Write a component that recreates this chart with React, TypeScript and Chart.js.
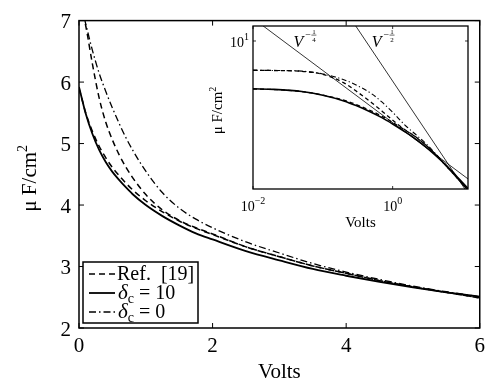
import React, { useEffect, useRef } from "react";
import { Chart, registerables } from "chart.js";

Chart.register(...registerables);

const FONT = "'Liberation Serif', 'Times New Roman', Times, serif";

// ---------- Main plot data (Volts -> μF/cm²) ----------
const volts = [0, 0.05, 0.1, 0.2, 0.3, 0.4, 0.5, 0.6, 0.7, 0.8, 1.0, 1.25, 1.5, 1.75, 2.0, 2.5, 3.0, 3.5, 4.0, 4.5, 5.0, 5.5, 6.0];
const refNear = [5.9, 5.7, 5.5, 5.2, 4.96, 4.77, 4.61, 4.48, 4.36, 4.25, 4.07, 3.89, 3.74, 3.62, 3.52, 3.32, 3.16, 3.01, 2.89, 2.77, 2.67, 2.58, 2.49];
const refUpper = [7.25, 7.15, 6.92, 6.3, 5.75, 5.35, 5.06, 4.82, 4.62, 4.45, 4.17, 3.92, 3.75, 3.63, 3.53, 3.32, 3.16, 3.01, 2.89, 2.77, 2.67, 2.58, 2.49];
const deltaC10 = [5.92, 5.7, 5.49, 5.16, 4.9, 4.7, 4.54, 4.41, 4.29, 4.18, 4.0, 3.82, 3.67, 3.54, 3.44, 3.25, 3.1, 2.96, 2.85, 2.75, 2.66, 2.58, 2.51];
const deltaC0 = [7.25, 7.17, 6.95, 6.52, 6.15, 5.85, 5.58, 5.33, 5.1, 4.9, 4.55, 4.2, 3.95, 3.77, 3.63, 3.4, 3.22, 3.05, 2.91, 2.79, 2.68, 2.59, 2.51];

const mainXTickValues = [0, 2, 4, 6];
const mainYTickValues = [2, 3, 4, 5, 6, 7];

// ---------- Inset data (log-log) ----------
const insetVolts = [0.01, 0.02, 0.05, 0.1, 0.2, 0.3, 0.5, 0.7, 1, 1.5, 2, 3, 4, 6, 8, 12];
const insetRefNear = [5.88, 5.85, 5.72, 5.5, 5.2, 4.96, 4.61, 4.36, 4.07, 3.74, 3.52, 3.16, 2.89, 2.49, 2.24, 1.92];
const insetRefUpper = [7.24, 7.22, 7.15, 6.92, 6.3, 5.75, 5.06, 4.62, 4.17, 3.75, 3.53, 3.16, 2.89, 2.49, 2.24, 1.92];
const insetDeltaC10 = [5.9, 5.86, 5.72, 5.49, 5.16, 4.9, 4.54, 4.29, 4.0, 3.67, 3.44, 3.1, 2.85, 2.51, 2.27, 1.96];
const insetDeltaC0 = [7.24, 7.22, 7.17, 6.95, 6.52, 6.15, 5.58, 5.1, 4.55, 3.95, 3.63, 3.22, 2.91, 2.51, 2.26, 1.95];

// power-law guide lines
const guideQuarterV = [0.01, 12];
const guideQuarterC = [12.84, 2.18];
const guideHalfV = [0.2, 12];
const guideHalfC = [14.36, 1.853];
const guideLabelV = [0.038, 0.5];
const guideLabelC = [9.4, 9.4];
const guideLabelDen = ["4", "2"];

const insetXTickValues = [0.01, 1];
const insetYTickValues = [10];

const legendLabels = ["Ref.  [19]", "10", "0"];

function series(xs: number[], ys: number[], dash: number[], width: number) {
  return {
    data: xs.map((x, i) => ({ x, y: ys[i] })),
    borderColor: "#000",
    backgroundColor: "#000",
    borderWidth: width,
    borderDash: dash,
    pointRadius: 0,
    fill: false,
    tension: 0.3,
    cubicInterpolationMode: "monotone" as const,
  };
}

function drawSupText(
  ctx: CanvasRenderingContext2D,
  parts: { t: string; size: number; dy: number; italic?: boolean }[],
  x: number,
  y: number,
  align: "left" | "center" | "right"
) {
  let total = 0;
  const widths = parts.map((p) => {
    ctx.font = `${p.italic ? "italic " : ""}${p.size}px ${FONT}`;
    const w = ctx.measureText(p.t).width;
    total += w;
    return w;
  });
  let cx = align === "left" ? x : align === "center" ? x - total / 2 : x - total;
  ctx.textAlign = "left";
  ctx.textBaseline = "alphabetic";
  parts.forEach((p, i) => {
    ctx.font = `${p.italic ? "italic " : ""}${p.size}px ${FONT}`;
    ctx.fillText(p.t, cx, y + p.dy);
    cx += widths[i];
  });
}

function seg(ctx: CanvasRenderingContext2D, x1: number, y1: number, x2: number, y2: number) {
  ctx.beginPath();
  ctx.moveTo(x1, y1);
  ctx.lineTo(x2, y2);
  ctx.stroke();
}

const mainDecor = {
  id: "mainDecor",
  afterDatasetsDraw(chart: any) {
    const { ctx, chartArea: a, scales } = chart;
    ctx.save();
    ctx.strokeStyle = "#000";
    ctx.fillStyle = "#000";
    ctx.setLineDash([]);
    ctx.lineWidth = 1.5;
    ctx.strokeRect(a.left, a.top, a.right - a.left, a.bottom - a.top);
    ctx.lineWidth = 1;
    const L = 5;
    scales.x.ticks.forEach((t: any) => {
      const x = scales.x.getPixelForValue(t.value);
      seg(ctx, x, a.bottom, x, a.bottom - L);
      seg(ctx, x, a.top, x, a.top + L);
    });
    scales.y.ticks.forEach((t: any) => {
      const y = scales.y.getPixelForValue(t.value);
      seg(ctx, a.left, y, a.left + L, y);
      seg(ctx, a.right, y, a.right - L, y);
    });
    // axis titles
    ctx.fillStyle = "#000";
    drawSupText(ctx, [{ t: "Volts", size: 21, dy: 0 }], (a.left + a.right) / 2, a.bottom + 50, "center");
    ctx.save();
    ctx.translate(a.left - 43, (a.top + a.bottom) / 2 + 4);
    ctx.rotate(-Math.PI / 2);
    drawSupText(ctx, [{ t: "μ F/cm", size: 21, dy: 0 }, { t: "2", size: 14, dy: -9 }], 0, 0, "center");
    ctx.restore();

    // legend
    const bx = a.left + 4, by = a.bottom - 66, bw = 115, bh = 61;
    ctx.fillStyle = "#fff";
    ctx.fillRect(bx, by, bw, bh);
    ctx.lineWidth = 1.5;
    ctx.strokeRect(bx, by, bw, bh);
    const dsIdx = [0, 2, 3];
    const rowY = [by + 12, by + 31, by + 50];
    dsIdx.forEach((di, r) => {
      const ds = chart.data.datasets[di];
      ctx.strokeStyle = "#000";
      ctx.lineWidth = ds.borderWidth;
      ctx.setLineDash(ds.borderDash || []);
      seg(ctx, bx + 6, rowY[r], bx + 32, rowY[r]);
      ctx.setLineDash([]);
      ctx.fillStyle = "#000";
      if (r === 0) {
        drawSupText(ctx, [{ t: legendLabels[0], size: 20, dy: 0 }], bx + 34, rowY[r] + 6, "left");
      } else {
        drawSupText(
          ctx,
          [
            { t: "δ", size: 21, dy: 0, italic: true },
            { t: "c", size: 14, dy: 4 },
            { t: " = " + legendLabels[r], size: 20, dy: 0 },
          ],
          bx + 35,
          rowY[r] + 6,
          "left"
        );
      }
    });
    ctx.restore();
  },
};

const insetDecor = {
  id: "insetDecor",
  beforeDatasetsDraw(chart: any) {
    const { ctx, chartArea: a } = chart;
    ctx.save();
    ctx.fillStyle = "#fff";
    ctx.fillRect(a.left, a.top, a.right - a.left, a.bottom - a.top);
    ctx.restore();
  },
  afterDatasetsDraw(chart: any) {
    const { ctx, chartArea: a, scales } = chart;
    ctx.save();
    ctx.strokeStyle = "#000";
    ctx.fillStyle = "#000";
    ctx.setLineDash([]);
    ctx.lineWidth = 1.3;
    ctx.strokeRect(a.left, a.top, a.right - a.left, a.bottom - a.top);
    ctx.lineWidth = 0.8;
    const L = 3;
    scales.x.ticks.forEach((t: any) => {
      const x = scales.x.getPixelForValue(t.value);
      seg(ctx, x, a.bottom, x, a.bottom - L);
      seg(ctx, x, a.top, x, a.top + L);
      const e = Math.round(Math.log10(t.value));
      drawSupText(
        ctx,
        [
          { t: "10", size: 14, dy: 0 },
          { t: e < 0 ? "−" + Math.abs(e) : String(e), size: 10, dy: -7 },
        ],
        x,
        a.bottom + 22,
        "center"
      );
    });
    scales.y.ticks.forEach((t: any) => {
      const y = scales.y.getPixelForValue(t.value);
      seg(ctx, a.left, y, a.left + L, y);
      seg(ctx, a.right, y, a.right - L, y);
      const e = Math.round(Math.log10(t.value));
      drawSupText(ctx, [{ t: "10", size: 14, dy: 0 }, { t: String(e), size: 10, dy: -7 }], a.left - 4, y + 6, "right");
    });
    drawSupText(ctx, [{ t: "Volts", size: 15, dy: 0 }], (a.left + a.right) / 2, a.bottom + 38, "center");
    ctx.save();
    ctx.translate(a.left - 31, (a.top + a.bottom) / 2 + 3);
    ctx.rotate(-Math.PI / 2);
    drawSupText(ctx, [{ t: "μ F/cm", size: 15, dy: 0 }, { t: "2", size: 10, dy: -6 }], 0, 0, "center");
    ctx.restore();
    // guide labels
    guideLabelV.forEach((v, i) => {
      const x = scales.x.getPixelForValue(v);
      const y = scales.y.getPixelForValue(guideLabelC[i]);
      ctx.font = `italic 16px ${FONT}`;
      ctx.textAlign = "left";
      ctx.textBaseline = "alphabetic";
      ctx.fillText("V", x, y);
      const wV = ctx.measureText("V").width;
      ctx.font = `10px ${FONT}`;
      ctx.fillText("−", x + wV + 2, y - 9);
      const wm = ctx.measureText("−").width;
      const fx = x + wV + 2 + wm + 3;
      ctx.font = `7px ${FONT}`;
      ctx.textAlign = "center";
      ctx.fillText("1", fx, y - 13);
      ctx.fillText(guideLabelDen[i], fx, y - 5);
      ctx.lineWidth = 0.6;
      seg(ctx, fx - 2.5, y - 11.5, fx + 2.5, y - 11.5);
    });
    ctx.restore();
  },
};

export default function App() {
  const mainRef = useRef<HTMLCanvasElement>(null);
  const insetRef = useRef<HTMLCanvasElement>(null);

  useEffect(() => {
    const tickFont = { family: FONT, size: 21 };
    const main = new Chart(mainRef.current as HTMLCanvasElement, {
      type: "line",
      data: {
        datasets: [
          series(volts, refNear, [6, 4], 1.5) as any,
          series(volts, refUpper, [6, 4], 1.5) as any,
          series(volts, deltaC10, [], 1.8) as any,
          series(volts, deltaC0, [7, 3, 1.5, 3], 1.3) as any,
        ],
      },
      options: {
        responsive: false,
        animation: false,
        devicePixelRatio: 1,
        events: [],
        layout: { padding: { top: 14, right: 6, left: 0, bottom: 0 } },
        plugins: { legend: { display: false }, tooltip: { enabled: false } },
        scales: {
          x: {
            type: "linear",
            min: 0,
            max: 6,
            afterBuildTicks: (s: any) => {
              s.ticks = mainXTickValues.map((v) => ({ value: v }));
            },
            afterFit: (s: any) => {
              s.height = 53;
            },
            grid: { display: false, drawTicks: false },
            border: { display: false },
            ticks: { font: tickFont, color: "#000", padding: 6, maxRotation: 0, autoSkip: false },
          },
          y: {
            type: "linear",
            min: 2,
            max: 7,
            afterBuildTicks: (s: any) => {
              s.ticks = mainYTickValues.map((v) => ({ value: v }));
            },
            afterFit: (s: any) => {
              s.width = 79;
            },
            grid: { display: false, drawTicks: false },
            border: { display: false },
            ticks: { font: tickFont, color: "#000", padding: 8, labelOffset: 2, autoSkip: false },
          },
        },
      } as any,
      plugins: [mainDecor],
    });

    const inset = new Chart(insetRef.current as HTMLCanvasElement, {
      type: "line",
      data: {
        datasets: [
          series(insetVolts, insetRefNear, [4, 3], 1.3) as any,
          series(insetVolts, insetRefUpper, [4, 3], 1.3) as any,
          series(insetVolts, insetDeltaC10, [], 1.6) as any,
          series(insetVolts, insetDeltaC0, [5, 2.5, 1.2, 2.5], 1.1) as any,
          { ...series(guideQuarterV, guideQuarterC, [], 0.8), tension: 0, cubicInterpolationMode: "default" } as any,
          { ...series(guideHalfV, guideHalfC, [], 0.8), tension: 0, cubicInterpolationMode: "default" } as any,
        ],
      },
      options: {
        responsive: false,
        animation: false,
        devicePixelRatio: 1,
        events: [],
        layout: { padding: { top: 26, right: 23, left: 253, bottom: 192 } },
        plugins: { legend: { display: false }, tooltip: { enabled: false } },
        scales: {
          x: {
            type: "logarithmic",
            min: 0.01,
            max: 12,
            afterBuildTicks: (s: any) => {
              s.ticks = insetXTickValues.map((v) => ({ value: v }));
            },
            afterFit: (s: any) => {
              s.height = 0;
            },
            grid: { display: false, drawTicks: false },
            border: { display: false },
            ticks: { display: false },
          },
          y: {
            type: "logarithmic",
            min: 1.95,
            max: 11.8,
            afterBuildTicks: (s: any) => {
              s.ticks = insetYTickValues.map((v) => ({ value: v }));
            },
            afterFit: (s: any) => {
              s.width = 0;
            },
            grid: { display: false, drawTicks: false },
            border: { display: false },
            ticks: { display: false },
          },
        },
      } as any,
      plugins: [insetDecor],
    });

    return () => {
      main.destroy();
      inset.destroy();
    };
  }, []);

  return (
    <div style={{ position: "fixed", left: 0, top: 0, width: 491, height: 381, background: "#fff" }}>
      <canvas
        ref={mainRef}
        width={491}
        height={381}
        style={{ position: "absolute", left: 0, top: 0, width: 491, height: 381, display: "block" }}
      />
      <canvas
        ref={insetRef}
        width={491}
        height={381}
        style={{ position: "absolute", left: 0, top: 0, width: 491, height: 381, display: "block" }}
      />
    </div>
  );
}
